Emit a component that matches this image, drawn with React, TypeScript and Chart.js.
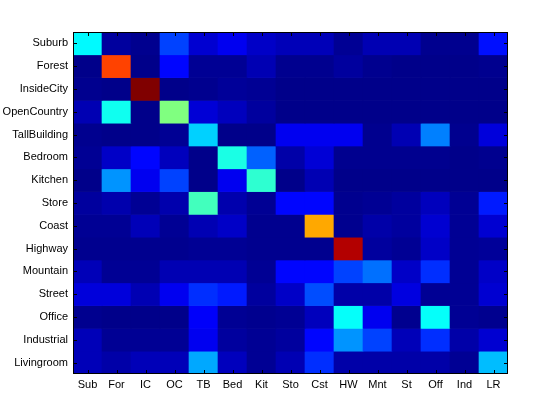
import React, { useEffect, useRef } from "react";
import { Chart, registerables } from "chart.js";

Chart.register(...registerables);

const rowLabels = ["Suburb", "Forest", "InsideCity", "OpenCountry", "TallBuilding", "Bedroom", "Kitchen", "Store", "Coast", "Highway", "Mountain", "Street", "Office", "Industrial", "Livingroom"];
const colLabels = ["Sub", "For", "IC", "OC", "TB", "Bed", "Kit", "Sto", "Cst", "HW", "Mnt", "St", "Off", "Ind", "LR"];

// confusion values (0..1 scale of the jet colormap), one array per true class
const suburbRow = [0.37, 0.03, 0.015, 0.19, 0.08, 0.11, 0.07, 0.055, 0.055, 0.02, 0.05, 0.05, 0.015, 0.015, 0.14];
const forestRow = [0.01, 0.81, 0.01, 0.13, 0.02, 0.02, 0.05, 0.015, 0.015, 0.03, 0.015, 0.01, 0.01, 0.01, 0.015];
const insideCityRow = [0.015, 0.01, 1.0, 0.01, 0.015, 0.025, 0.02, 0.01, 0.01, 0.01, 0.01, 0.01, 0.01, 0.01, 0.01];
const openCountryRow = [0.05, 0.39, 0.01, 0.5, 0.085, 0.06, 0.03, 0.01, 0.01, 0.01, 0.01, 0.01, 0.01, 0.01, 0.01];
const tallBuildingRow = [0.015, 0.01, 0.01, 0.02, 0.33, 0.01, 0.01, 0.11, 0.11, 0.11, 0.015, 0.05, 0.25, 0.015, 0.09];
const bedroomRow = [0.02, 0.07, 0.13, 0.06, 0.01, 0.4, 0.22, 0.04, 0.085, 0.015, 0.015, 0.015, 0.015, 0.01, 0.015];
const kitchenRow = [0.01, 0.27, 0.11, 0.19, 0.01, 0.11, 0.42, 0.01, 0.05, 0.01, 0.01, 0.01, 0.01, 0.01, 0.01];
const storeRow = [0.03, 0.045, 0.02, 0.045, 0.44, 0.045, 0.02, 0.13, 0.13, 0.015, 0.02, 0.03, 0.06, 0.02, 0.15];
const coastRow = [0.02, 0.02, 0.055, 0.02, 0.05, 0.07, 0.015, 0.015, 0.71, 0.015, 0.04, 0.03, 0.08, 0.02, 0.08];
const highwayRow = [0.015, 0.015, 0.015, 0.015, 0.02, 0.02, 0.015, 0.015, 0.015, 0.95, 0.03, 0.02, 0.07, 0.02, 0.025];
const mountainRow = [0.055, 0.02, 0.02, 0.05, 0.05, 0.05, 0.02, 0.13, 0.13, 0.19, 0.235, 0.07, 0.17, 0.02, 0.07];
const streetRow = [0.09, 0.09, 0.05, 0.11, 0.17, 0.15, 0.03, 0.07, 0.2, 0.04, 0.04, 0.095, 0.02, 0.02, 0.08];
const officeRow = [0.015, 0.01, 0.01, 0.01, 0.12, 0.02, 0.015, 0.02, 0.06, 0.38, 0.11, 0.015, 0.38, 0.02, 0.015];
const industrialRow = [0.055, 0.02, 0.02, 0.02, 0.11, 0.03, 0.02, 0.03, 0.13, 0.27, 0.19, 0.055, 0.17, 0.04, 0.08];
const livingroomRow = [0.055, 0.04, 0.055, 0.055, 0.29, 0.06, 0.02, 0.05, 0.17, 0.04, 0.04, 0.04, 0.04, 0.02, 0.31];

const matrixRows = [suburbRow, forestRow, insideCityRow, openCountryRow, tallBuildingRow, bedroomRow, kitchenRow, storeRow, coastRow, highwayRow, mountainRow, streetRow, officeRow, industrialRow, livingroomRow];

function jet(v: number): string {
  const c = (t: number) => Math.round(255 * Math.max(0, Math.min(1, t)));
  const r = c(1.5 - Math.abs(4 * v - 3));
  const g = c(1.5 - Math.abs(4 * v - 2));
  const b = c(1.5 - Math.abs(4 * v - 1));
  return `rgb(${r},${g},${b})`;
}

const framePlugin = {
  id: "matlabFrame",
  afterDatasetsDraw(chart: any) {
    const { ctx, chartArea: a, scales } = chart;
    const x = scales.x;
    const y = scales.y;
    ctx.save();
    ctx.strokeStyle = "#000";
    ctx.lineWidth = 1;
    ctx.beginPath();
    const tl = 4;
    x.ticks.forEach((_: any, i: number) => {
      const px = Math.round(x.getPixelForTick(i)) + 0.5;
      ctx.moveTo(px, a.bottom);
      ctx.lineTo(px, a.bottom - tl);
      ctx.moveTo(px, a.top);
      ctx.lineTo(px, a.top + tl);
    });
    y.ticks.forEach((t: any) => {
      const py = Math.round(y.getPixelForValue(t.value)) + 0.5;
      ctx.moveTo(a.left, py);
      ctx.lineTo(a.left + tl, py);
      ctx.moveTo(a.right, py);
      ctx.lineTo(a.right - tl, py);
    });
    ctx.stroke();
    ctx.strokeRect(Math.round(a.left) + 0.5, Math.round(a.top) + 0.5, Math.round(a.right - a.left) - 1, Math.round(a.bottom - a.top) - 1);
    ctx.restore();
  },
};

export default function App() {
  const ref = useRef<HTMLCanvasElement | null>(null);
  useEffect(() => {
    if (!ref.current) return;
    const datasets = matrixRows.map((row, r) => ({
      label: rowLabels[r],
      data: colLabels.map(() => [r - 0.5, r + 0.5]),
      backgroundColor: row.map((v) => jet(v)),
      borderWidth: 0,
      barPercentage: 1,
      categoryPercentage: 1,
      grouped: false,
    }));
    const chart = new Chart(ref.current, {
      type: "bar",
      data: { labels: colLabels, datasets: datasets as any },
      options: {
        animation: false,
        responsive: false,
        layout: { padding: { left: 0, top: 32, right: 52, bottom: 0 } },
        plugins: { legend: { display: false }, tooltip: { enabled: false } },
        scales: {
          x: {
            grid: { display: false, drawTicks: false },
            border: { display: false },
            ticks: { color: "#000", font: { family: "Liberation Sans, Arial, sans-serif", size: 11 }, padding: 4, maxRotation: 0, autoSkip: false },
            afterFit: (s: any) => { s.height = 46; },
          },
          y: {
            type: "linear",
            min: -0.5,
            max: 14.5,
            reverse: true,
            grid: { display: false, drawTicks: false },
            border: { display: false },
            afterBuildTicks: (s: any) => { s.ticks = rowLabels.map((_, i) => ({ value: i })); },
            ticks: {
              color: "#000",
              font: { family: "Liberation Sans, Arial, sans-serif", size: 11 },
              padding: 5,
              autoSkip: false,
              callback: (v: any) => rowLabels[Math.round(Number(v))] ?? "",
            },
            afterFit: (s: any) => { s.width = 73; },
          },
        },
      },
      plugins: [framePlugin],
    });
    return () => chart.destroy();
  }, []);
  return (
    <div style={{ position: "fixed", left: 0, top: 0, width: 560, height: 420, background: "#fff" }}>
      <canvas ref={ref} width={560} height={420} />
    </div>
  );
}
